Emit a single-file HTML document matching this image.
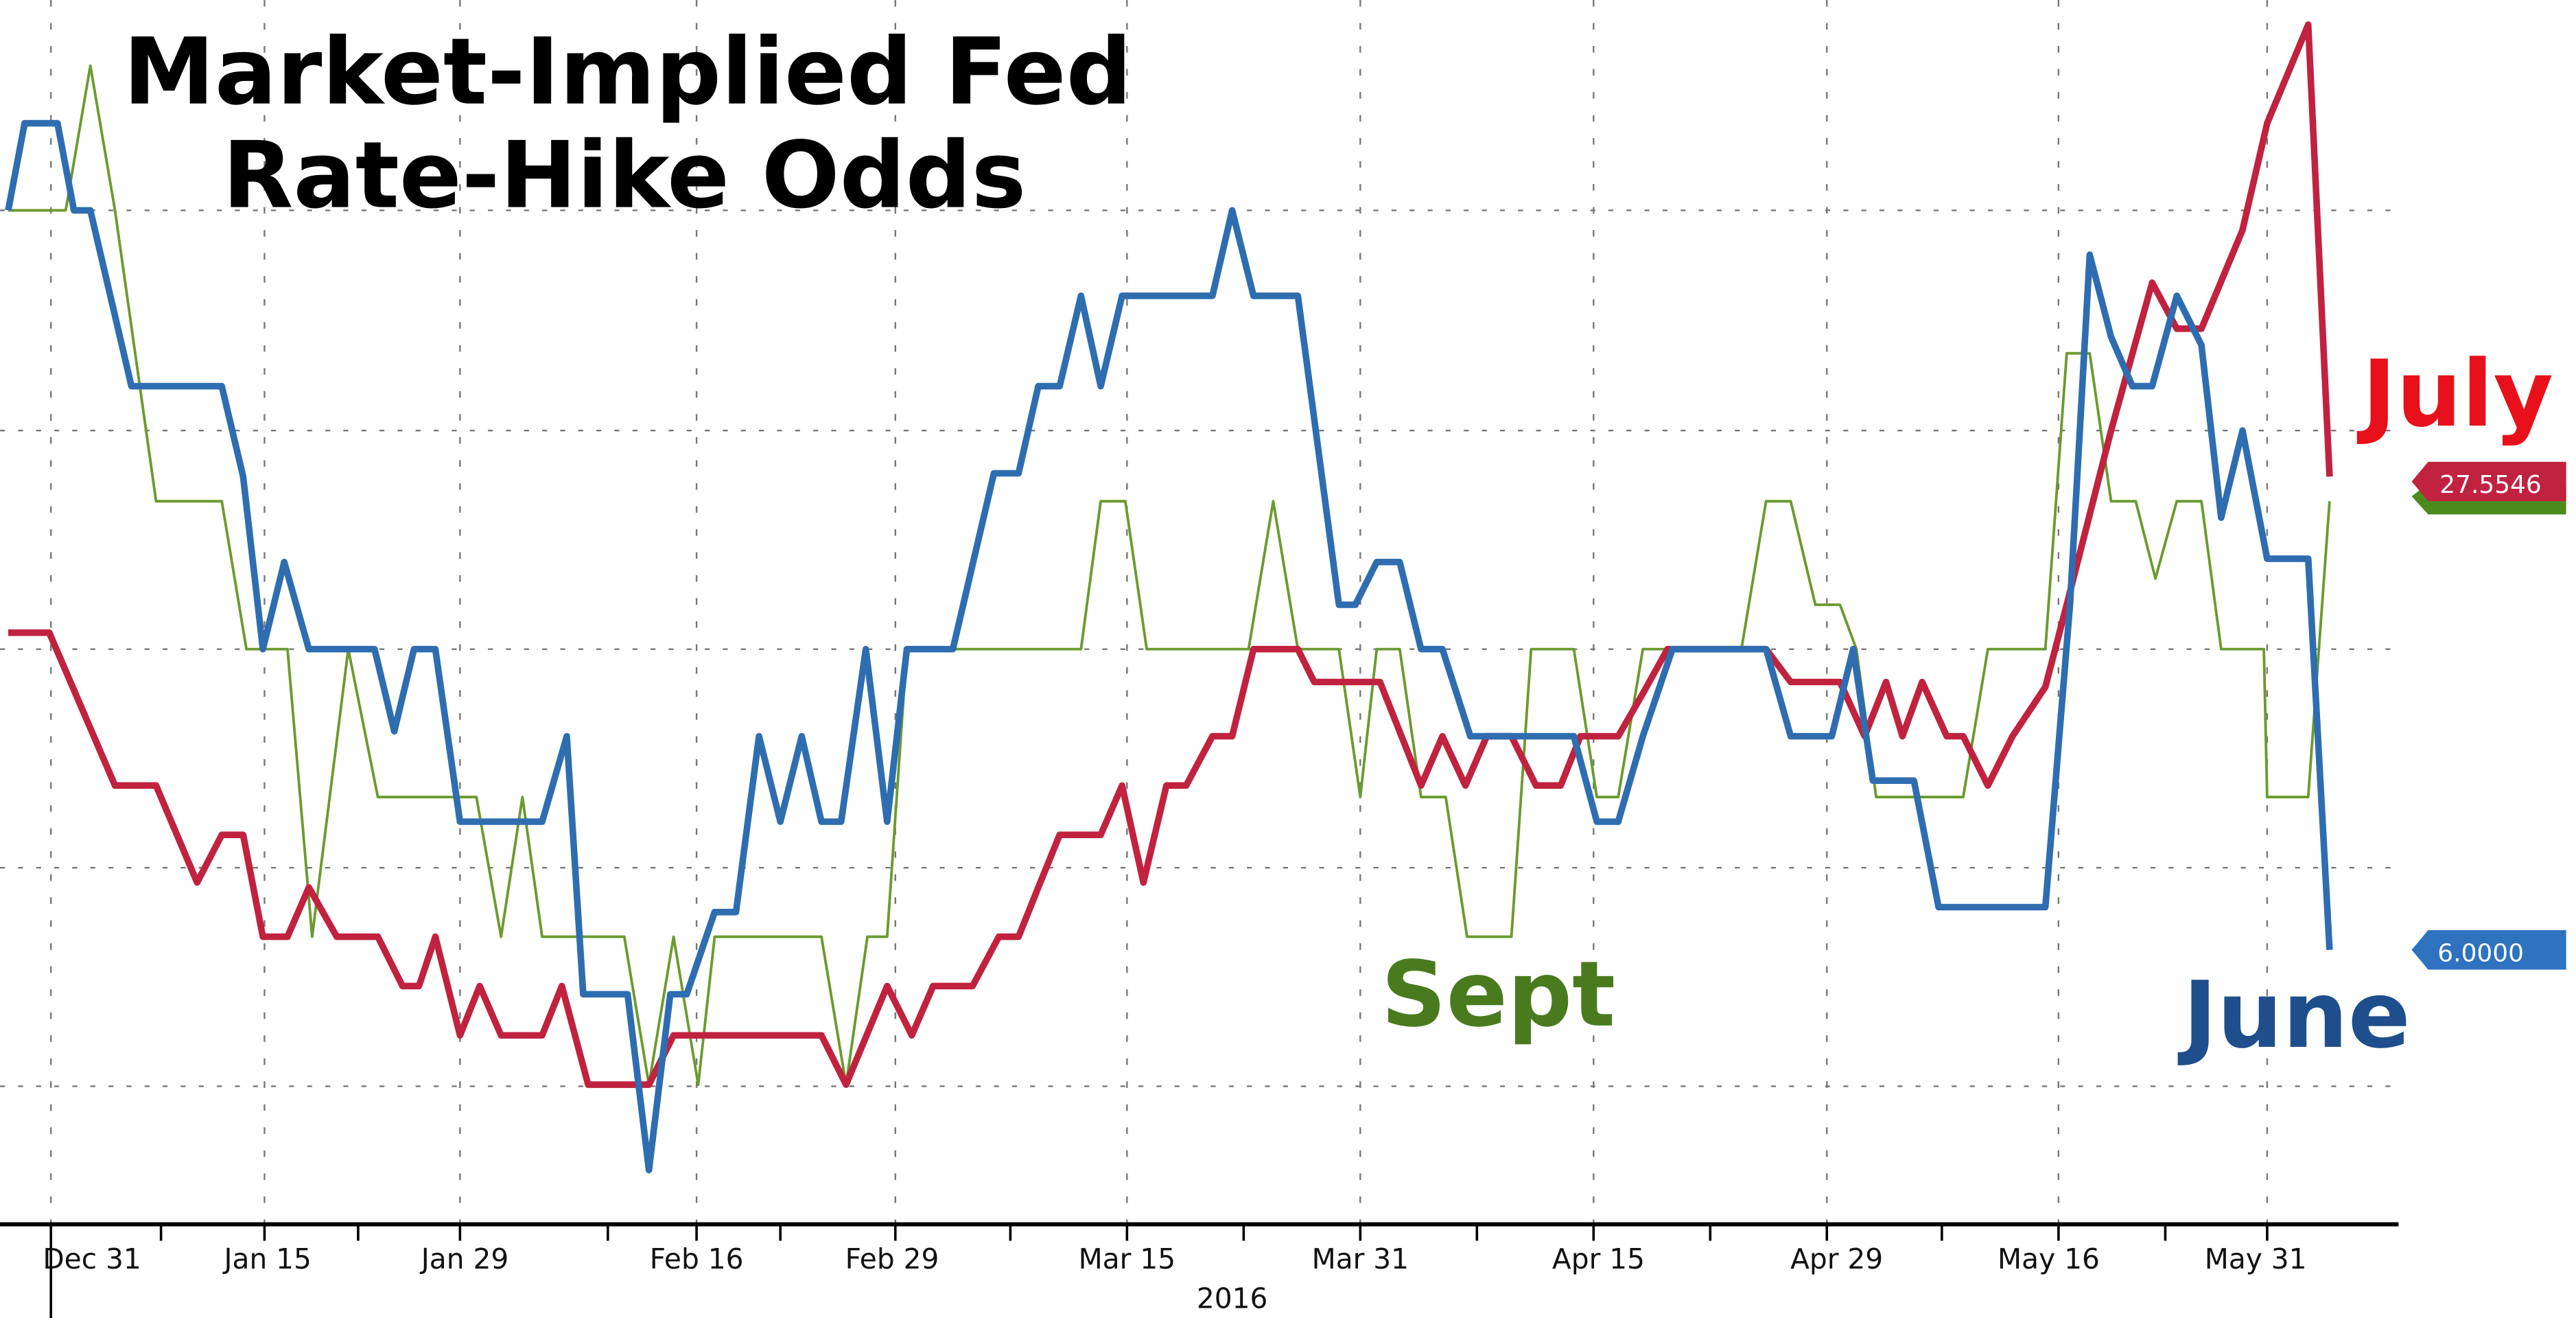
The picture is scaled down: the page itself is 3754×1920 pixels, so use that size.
<!DOCTYPE html>
<html><head><meta charset="utf-8"><style>
html,body{margin:0;padding:0;background:#fff;overflow:hidden}
svg{display:block}
</style></head><body>
<svg width="3754" height="1920" viewBox="0 0 1568 802" preserveAspectRatio="none" xmlns="http://www.w3.org/2000/svg">
<rect width="1568" height="802" fill="#fff"/>
<g stroke="#777" stroke-width="1" stroke-dasharray="3,8" fill="none">
<line x1="0" y1="128" x2="1460" y2="128"/>
<line x1="0" y1="262" x2="1460" y2="262"/>
<line x1="0" y1="395" x2="1460" y2="395"/>
<line x1="0" y1="528" x2="1460" y2="528"/>
<line x1="0" y1="661" x2="1460" y2="661"/>
</g>
<g stroke="#777" stroke-width="1" stroke-dasharray="4,10" fill="none">
<line x1="31" y1="0" x2="31" y2="745"/>
<line x1="161" y1="0" x2="161" y2="745"/>
<line x1="280" y1="0" x2="280" y2="745"/>
<line x1="424" y1="0" x2="424" y2="745"/>
<line x1="545" y1="0" x2="545" y2="745"/>
<line x1="686" y1="0" x2="686" y2="745"/>
<line x1="828" y1="0" x2="828" y2="745"/>
<line x1="970" y1="0" x2="970" y2="745"/>
<line x1="1112" y1="0" x2="1112" y2="745"/>
<line x1="1253" y1="0" x2="1253" y2="745"/>
<line x1="1380" y1="0" x2="1380" y2="745"/>
</g>
<line x1="0" y1="745" x2="1460" y2="745" stroke="#000" stroke-width="2.5"/>
<g stroke="#000" stroke-width="1.5">
<line x1="31" y1="745" x2="31" y2="802"/>
<line x1="98" y1="745" x2="98" y2="755"/><line x1="161" y1="745" x2="161" y2="755"/>
<line x1="218" y1="745" x2="218" y2="755"/><line x1="280" y1="745" x2="280" y2="755"/>
<line x1="370" y1="745" x2="370" y2="755"/><line x1="424" y1="745" x2="424" y2="755"/>
<line x1="475" y1="745" x2="475" y2="755"/><line x1="545" y1="745" x2="545" y2="755"/>
<line x1="615" y1="745" x2="615" y2="755"/><line x1="686" y1="745" x2="686" y2="755"/>
<line x1="757" y1="745" x2="757" y2="755"/><line x1="828" y1="745" x2="828" y2="755"/>
<line x1="899" y1="745" x2="899" y2="755"/><line x1="970" y1="745" x2="970" y2="755"/>
<line x1="1041" y1="745" x2="1041" y2="755"/><line x1="1112" y1="745" x2="1112" y2="755"/>
<line x1="1182" y1="745" x2="1182" y2="755"/><line x1="1253" y1="745" x2="1253" y2="755"/>
<line x1="1318" y1="745" x2="1318" y2="755"/><line x1="1380" y1="745" x2="1380" y2="755"/>
</g>
<g font-family="'DejaVu Sans','Liberation Sans',sans-serif" font-size="17" fill="#111" text-anchor="middle">
<text x="56" y="772">Dec 31</text>
<text x="163" y="772">Jan 15</text>
<text x="283" y="772">Jan 29</text>
<text x="424" y="772">Feb 16</text>
<text x="543" y="772">Feb 29</text>
<text x="686" y="772">Mar 15</text>
<text x="828" y="772">Mar 31</text>
<text x="973" y="772">Apr 15</text>
<text x="1118" y="772">Apr 29</text>
<text x="1247" y="772">May 16</text>
<text x="1373" y="772">May 31</text>
<text x="750" y="796">2016</text>
</g>
<polyline fill="none" stroke="#6b9a2f" stroke-width="1.6" stroke-linejoin="round" points="5,128 40,128 55,40 70,128 95,305 135,305 150,395 175,395 190,570 212,395 230,485 290,485 305,570 318,485 330,570 380,570 395,660 410,570 425,660 435,570 500,570 515,660 528,570 540,570 552,395 658,395 670,305 685,305 698,395 760,395 775,305 790,395 815,395 828,485 838,395 852,395 865,485 880,485 893,570 920,570 932,395 958,395 972,485 985,485 1000,395 1060,395 1075,305 1090,305 1105,368 1120,368 1130,395 1142,485 1195,485 1210,395 1245,395 1258,215 1272,215 1285,305 1300,305 1312,352 1325,305 1340,305 1352,395 1378,395 1380,485 1405,485 1418,305"/>
<polyline fill="none" stroke="#c0223f" stroke-width="4" stroke-linejoin="round" points="5,385 30,385 70,478 95,478 120,537 135,508 148,508 160,570 175,570 188,540 205,570 230,570 245,600 255,600 265,570 280,630 292,600 305,630 330,630 342,600 358,660 395,660 410,630 500,630 515,660 540,600 555,630 568,600 592,600 608,570 620,570 632,540 645,508 670,508 683,478 696,537 710,478 722,478 738,448 750,448 763,395 790,395 800,415 840,415 865,478 878,448 892,478 905,448 920,448 935,478 950,478 962,448 985,448 1000,422 1015,395 1075,395 1090,415 1120,415 1135,448 1148,415 1158,448 1170,415 1185,448 1195,448 1210,478 1225,448 1245,418 1258,368 1285,262 1310,172 1325,200 1340,200 1365,140 1380,75 1405,15 1418,290"/>
<polyline fill="none" stroke="#2e6db0" stroke-width="4" stroke-linejoin="round" points="5,128 15,75 35,75 45,128 55,128 80,235 135,235 148,290 160,395 173,342 188,395 228,395 240,445 252,395 265,395 280,500 330,500 345,448 355,605 382,605 395,712 408,605 418,605 435,555 448,555 462,448 475,500 488,448 500,500 512,500 527,395 540,500 552,395 580,395 605,288 620,288 632,235 645,235 658,180 670,235 683,180 738,180 750,128 763,180 790,180 815,368 825,368 838,342 852,342 865,395 878,395 895,448 958,448 972,500 985,500 1000,448 1018,395 1075,395 1090,448 1115,448 1128,395 1140,475 1165,475 1180,552 1245,552 1260,368 1272,155 1285,205 1298,235 1310,235 1325,180 1340,210 1352,315 1365,262 1380,340 1405,340 1418,578"/>
<g font-family="'DejaVu Sans','Liberation Sans',sans-serif" font-weight="bold" text-anchor="middle">
<text x="382" y="63" font-size="56" fill="#000">Market-Implied Fed</text>
<text x="380" y="126" font-size="56" fill="#000">Rate-Hike Odds</text>
<text x="1496" y="259" font-size="56" fill="#e8101a">July</text>
<text x="912" y="624" font-size="55" fill="#4a7a1e">Sept</text>
<text x="1398" y="637" font-size="56" fill="#1f4e8c">June</text>
</g>
<polygon points="1468,302 1477,295 1562,295 1562,313 1478,313" fill="#4d8a1e"/>
<polygon points="1468,293 1478,281 1562,281 1562,305 1478,305" fill="#c0223f"/>
<text x="1516" y="300" font-family="'DejaVu Sans','Liberation Sans',sans-serif" font-size="15" fill="#fff" text-anchor="middle">27.5546</text>
<polygon points="1468,578 1478,566 1562,566 1562,590 1478,590" fill="#2e72c0"/>
<text x="1510" y="585" font-family="'DejaVu Sans','Liberation Sans',sans-serif" font-size="15" fill="#fff" text-anchor="middle">6.0000</text>
</svg>
</body></html>
